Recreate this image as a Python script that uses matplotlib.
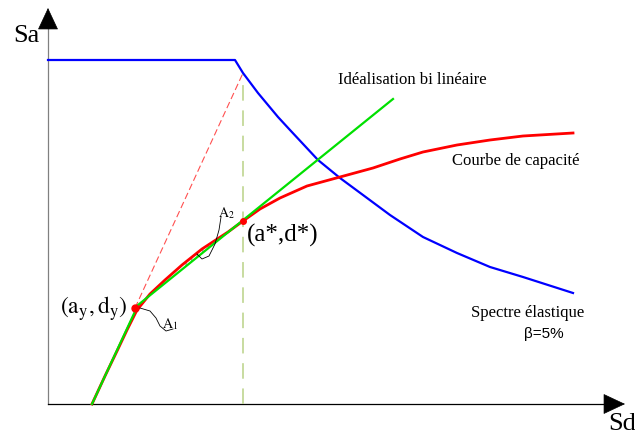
import matplotlib.pyplot as plt
import numpy as np

plt.rcParams['font.family'] = ['Liberation Serif', 'DejaVu Serif']
plt.rcParams['mathtext.fontset'] = 'stix'

# Spectre elastique (Sd, Sa)
spec_sd = [0, 187, 195, 210, 230, 242, 270, 292, 315, 342, 375, 409, 442, 475, 525]
spec_sa = [344, 344, 331, 311, 287, 274, 244, 226, 209, 189, 167, 151, 137, 127, 111]

# Courbe de capacite
cap_sd = [44, 57, 70, 79, 89, 102, 117, 134, 154, 180, 195, 212, 232, 259,
          292, 325, 352, 375, 409, 442, 475, 525]
cap_sa = [0, 28, 55, 74, 94, 110, 124, 139, 155, 172, 183, 195, 206, 218,
          227, 236, 245, 252, 259, 264, 268, 271]

# Idealisation bi lineaire
bil_sd = [44, 90, 345]
bil_sa = [0, 99, 305]

# points caracteristiques
yield_pt = (87, 96)        # (a_y, d_y)
perf_pt = (195, 183)       # (a*, d*)
elastic_top = (195, 331)   # prolongement de la rigidite initiale

# traits de rappel des aires A1 et A2
lead1_sd = [92, 102, 108, 112, 118, 125]
lead1_sa = [96, 93, 86, 78, 73, 75]
lead2_sd = [173, 171, 167, 161, 154, 149]
lead2_sa = [187, 174, 160, 148, 145, 150]

fig = plt.figure(figsize=(6.35, 4.34), dpi=100)
ax = fig.add_axes([0, 0, 1, 1])
ax.set_xlim(-48, 587)
ax.set_ylim(-30, 404)
ax.axis('off')

# axes avec fleches
ax.plot([0, 0], [0, 378], color='#808080', lw=0.9)
ax.plot([0, 559], [0, 0], color='black', lw=0.9)
head = dict(arrowstyle='-|>,head_length=1.45,head_width=0.68',
            mutation_scale=10, color='black', lw=0.5, shrinkA=0, shrinkB=0)
ax.annotate('', xy=(0, 396), xytext=(0, 376), arrowprops=head)
ax.annotate('', xy=(577, 0), xytext=(557, 0), arrowprops=head)
ax.text(-35, 362, 'Sa', fontsize=19, va='baseline', ha='left')
ax.text(560, -26, 'Sd', fontsize=19, va='baseline', ha='left')

# aire A2 hachuree
cx = np.array(cap_sd, dtype=float)
cy = np.array(cap_sa, dtype=float)
sel = (cx >= 134) & (cx <= 195)
ax.fill_between(cx[sel], np.interp(cx[sel], bil_sd, bil_sa), cy[sel],
                facecolor='none', edgecolor='#a0a0a0', hatch='|||', lw=0)

# rigidite initiale (tirets rouges) et verticale en d*
ax.plot([yield_pt[0], elastic_top[0]], [yield_pt[1], elastic_top[1]],
        color='#ff5050', lw=0.8, dashes=(6, 3))
ax.plot([perf_pt[0], perf_pt[0]], [0, elastic_top[1]],
        color='#c8dca0', lw=1.4, dashes=(8, 5))

ax.plot(spec_sd, spec_sa, color='#0000ff', lw=1.6)
ax.plot(cap_sd, cap_sa, color='#ff0000', lw=2.0)
ax.plot(bil_sd, bil_sa, color='#00e000', lw=1.6)

ax.plot(*yield_pt, 'o', color='#ff0000', ms=5)
ax.plot(*perf_pt, 'o', color='#ff0000', ms=4)

ax.plot(lead1_sd, lead1_sa, color='black', lw=0.6)
ax.plot(lead2_sd, lead2_sa, color='black', lw=0.6)

ax.text(12, 95, r'$(\mathrm{a}_\mathrm{y}, \mathrm{d}_\mathrm{y})$', fontsize=17,
        va='center', ha='left')
ax.text(199, 169, '(a*,d*)', fontsize=18, va='center', ha='left')
ax.text(114, 76, r'$\mathrm{A}_\mathrm{1}$', fontsize=10, va='baseline', ha='left')
ax.text(170, 187, r'$\mathrm{A}_\mathrm{2}$', fontsize=10, va='baseline', ha='left')

ax.text(290, 320, 'Idéalisation bi linéaire', fontsize=12, va='baseline', ha='left')
ax.text(404, 239, 'Courbe de capacité', fontsize=12, va='baseline', ha='left')
ax.text(423, 87, 'Spectre élastique', fontsize=12, va='baseline', ha='left')
ax.text(476, 66, 'β=5%', fontsize=11, va='baseline', ha='left',
        family=['Liberation Sans', 'DejaVu Sans'])

fig.savefig('out.png', dpi=100)
